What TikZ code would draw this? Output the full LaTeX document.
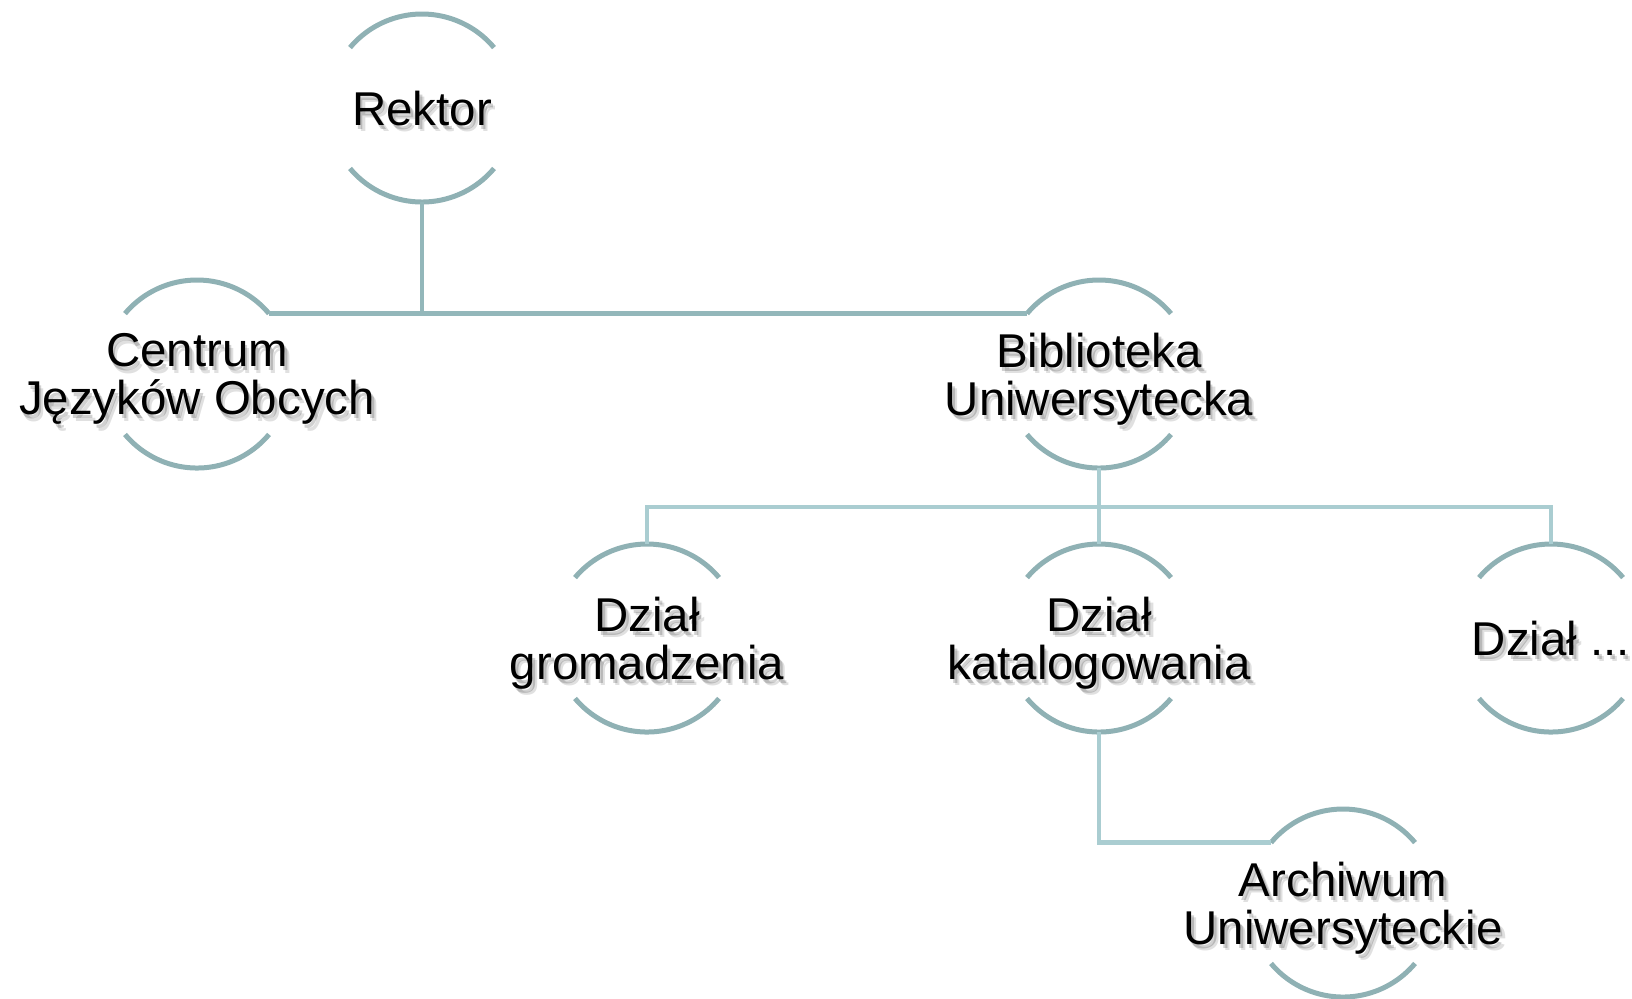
\documentclass[tikz,border=0pt]{standalone}
\usepackage{fontspec}
\setmainfont{Liberation Sans}
\definecolor{rimgray}{HTML}{8FB1B4}
\definecolor{linkdark}{HTML}{93B7BA}
\definecolor{linklight}{HTML}{AACDD1}
\tikzset{
  unit/.style={circle, minimum size=1.88cm, inner sep=0pt, outer sep=0pt,
    label={[unitshadow]center:{#1}}, label={[unitshade]center:{#1}}, label={[unittext]center:{#1}}},
  unittext/.style={align=center, text depth=0pt, font=\fontsize{13.5}{13.7}\selectfont},
  unitshadow/.style={unittext, text=black, text opacity=0.12, xshift=1.4pt, yshift=-1.9pt},
  unitshade/.style={unittext, text=black, text opacity=0.18, xshift=0.8pt, yshift=-1.1pt},
  rim/.style={rimgray, line width=0.05cm},
  link/.style={linkdark, line width=0.045cm},
  sublink/.style={linklight, line width=0.045cm}
}
\begin{document}
\begin{tikzpicture}
    \useasboundingbox (0,0) rectangle (16.32,-9.98);
    \node[unit={Rektor}] (R) at (4.22,-1.08) {};
    \node[unit={Centrum\\Języków Obcych}] (C) at (1.97,-3.74) {};
    \node[unit={Biblioteka\\Uniwersytecka}] (B) at (10.99,-3.74) {};
    \node[unit={Dział\\gromadzenia}] (G) at (6.47,-6.38) {};
    \node[unit={Dział\\katalogowania}] (K) at (10.99,-6.38) {};
    \node[unit={Dział ...}] (X) at (15.51,-6.38) {};
    \node[unit={Archiwum\\Uniwersyteckie}] (A) at (13.43,-9.03) {};
    % rims
    \draw[rim] (R.40) arc[start angle=40, end angle=140, radius=0.94] (R.220) arc[start angle=220, end angle=320, radius=0.94];
    \draw[rim] (C.40) arc[start angle=40, end angle=140, radius=0.94] (C.220) arc[start angle=220, end angle=320, radius=0.94];
    \draw[rim] (B.40) arc[start angle=40, end angle=140, radius=0.94] (B.220) arc[start angle=220, end angle=320, radius=0.94];
    \draw[rim] (G.40) arc[start angle=40, end angle=140, radius=0.94] (G.220) arc[start angle=220, end angle=320, radius=0.94];
    \draw[rim] (K.40) arc[start angle=40, end angle=140, radius=0.94] (K.220) arc[start angle=220, end angle=320, radius=0.94];
    \draw[rim] (X.40) arc[start angle=40, end angle=140, radius=0.94] (X.220) arc[start angle=220, end angle=320, radius=0.94];
    \draw[rim] (A.40) arc[start angle=40, end angle=140, radius=0.94] (A.220) arc[start angle=220, end angle=320, radius=0.94];
    % links
    \coordinate (Rbus) at (R.south |- C.40);
    \draw[link] (R.south) -- (Rbus);
    \draw[link] (C.40) -- (B.140);
    \coordinate (Bbus) at (10.99,-5.07);
    \draw[sublink] (B.south) -- (K.north);
    \draw[sublink] (G.north) -- (G.north |- Bbus) -- (X.north |- Bbus) -- (X.north);
    \draw[sublink] (K.south) |- (A.140);
\end{tikzpicture}
\end{document}
